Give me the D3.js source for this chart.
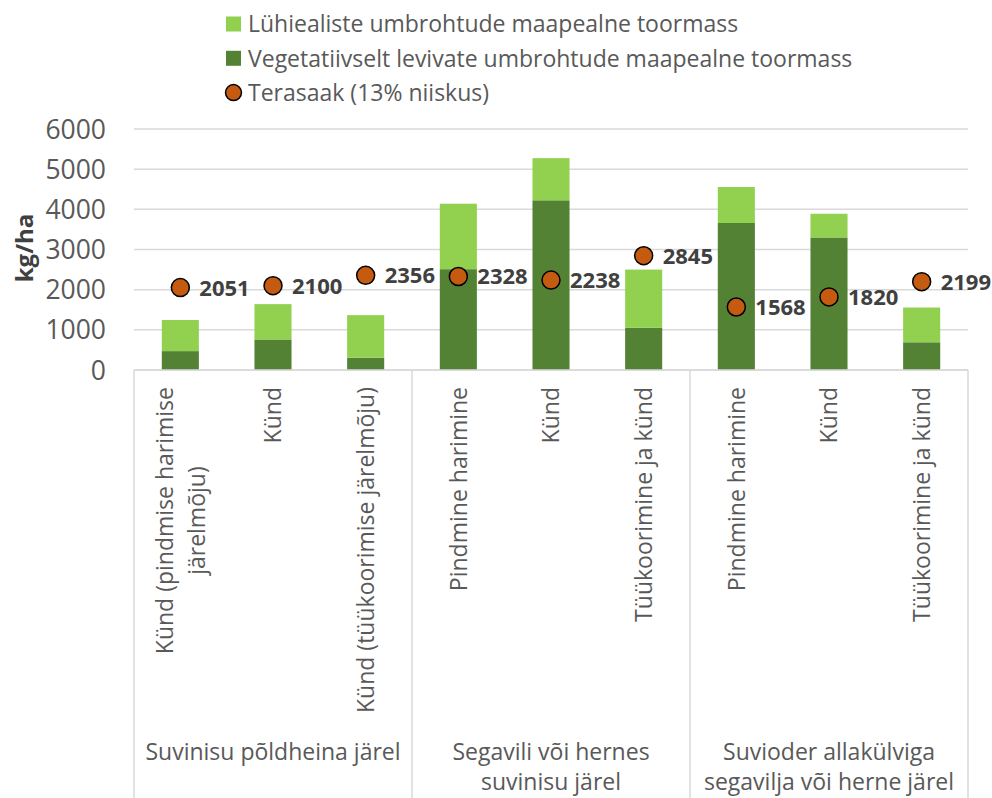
<!DOCTYPE html>
<html>
<head>
<meta charset="utf-8">
<script src="https://cdn.jsdelivr.net/npm/d3@7"></script>
<style>
  body { margin: 0; background: #fff; }
  svg { font-family: 'Open Sans', sans-serif; }
  .axis-text { fill: #595959; }
  .data-label { fill: #404040; font-weight: bold; }
</style>
</head>
<body>
<svg></svg>
<script>
var categories = [
  'Künd (pindmise harimise\njärelmõju)',
  'Künd',
  'Künd (tüükoorimise järelmõju)',
  'Pindmine harimine',
  'Künd',
  'Tüükoorimine ja künd',
  'Pindmine harimine',
  'Künd',
  'Tüükoorimine ja künd'
];
var groups = [
  'Suvinisu põldheina järel',
  'Segavili või hernes\nsuvinisu järel',
  'Suvioder allakülviga\nsegavilja või herne järel'
];

var seriesNames = [
  'Lühiealiste umbrohtude maapealne toormass',
  'Vegetatiivselt levivate umbrohtude maapealne toormass',
  'Terasaak (13% niiskus)'
];
var vegetative = [470, 760, 305, 2510, 4225, 1050, 3660, 3300, 690];
var shortLived = [775, 880, 1060, 1630, 1050, 1450, 895, 590, 865];
var grainYield = [2051, 2100, 2356, 2328, 2238, 2845, 1568, 1820, 2199];
var yTicks = [0, 1000, 2000, 3000, 4000, 5000, 6000];

var width = 992;
var height = 798;
var plot = { left: 134, right: 968, top: 129, bottom: 370 };

var colorShort = '#92d050';
var colorVeg = '#548235';
var colorYield = '#c55a11';
var lineColor = '#d9d9d9';

var svg = d3.select('svg')
  .attr('width', width)
  .attr('height', height);

var scaleX = d3.scaleBand()
  .domain(d3.range(categories.length))
  .range([plot.left, plot.right])
  .paddingInner(0.6)
  .paddingOuter(0.3);
var scaleGroup = d3.scaleBand()
  .domain(d3.range(groups.length))
  .range([plot.left, plot.right]);
var scaleY = d3.scaleLinear()
  .domain([0, 6000])
  .range([plot.bottom, plot.top]);

function center(i) {
  return scaleX(i) + scaleX.bandwidth() / 2;
}

// gridlines
svg.append('g')
  .selectAll('line')
  .data(yTicks)
  .enter().append('line')
  .attr('x1', plot.left)
  .attr('x2', plot.right)
  .attr('y1', function(d) { return scaleY(d); })
  .attr('y2', function(d) { return scaleY(d); })
  .attr('stroke', lineColor)
  .attr('stroke-width', 1.5);

svg.append('g')
  .selectAll('text')
  .data(yTicks)
  .enter().append('text')
  .attr('class', 'axis-text')
  .attr('x', 106)
  .attr('y', function(d) { return scaleY(d); })
  .attr('dy', '0.36em')
  .attr('text-anchor', 'end')
  .style('font-size', '26.5px')
  .text(function(d) { return d; });

svg.append('text')
  .attr('transform', 'translate(33,248) rotate(-90)')
  .attr('text-anchor', 'middle')
  .attr('fill', '#404040')
  .style('font-size', '24px')
  .style('font-weight', 'bold')
  .text('kg/ha');

// stacked bars
var stackData = categories.map(function(c, i) {
  return { veg: vegetative[i], short: shortLived[i] };
});
var stack = d3.stack().keys(['veg', 'short'])(stackData);
var stackColors = [colorVeg, colorShort];

svg.append('g')
  .selectAll('g')
  .data(stack)
  .enter().append('g')
  .attr('fill', function(d, i) { return stackColors[i]; })
  .selectAll('rect')
  .data(function(d) { return d; })
  .enter().append('rect')
  .attr('x', function(d, i) { return scaleX(i); })
  .attr('width', scaleX.bandwidth())
  .attr('y', function(d) { return scaleY(d[1]); })
  .attr('height', function(d) { return scaleY(d[0]) - scaleY(d[1]); });

// category axis box
var boundaries = d3.range(groups.length + 1).map(function(g) {
  return g < groups.length ? scaleGroup(g) : plot.right;
});
svg.append('line')
  .attr('x1', plot.left)
  .attr('x2', plot.right)
  .attr('y1', plot.bottom)
  .attr('y2', plot.bottom)
  .attr('stroke', lineColor)
  .attr('stroke-width', 1.5);
svg.append('g')
  .selectAll('line')
  .data(boundaries)
  .enter().append('line')
  .attr('x1', function(d) { return d; })
  .attr('x2', function(d) { return d; })
  .attr('y1', plot.bottom)
  .attr('y2', height)
  .attr('stroke', lineColor)
  .attr('stroke-width', 1.5);

// rotated category labels
var catLineHeight = 32;
var catLabels = svg.append('g')
  .selectAll('text')
  .data(categories)
  .enter().append('text')
  .attr('class', 'axis-text')
  .attr('transform', function(d, i) {
    return 'translate(' + center(i) + ',387) rotate(-90)';
  })
  .style('font-size', '23px')
  .attr('text-anchor', 'middle');

catLabels.each(function(d) {
  var lines = d.split('\n');
  var el = d3.select(this);
  var spans = lines.map(function(line, k) {
    return el.append('tspan')
      .attr('y', (k - (lines.length - 1) / 2) * catLineHeight)
      .attr('dy', '0.36em')
      .text(line);
  });
  var maxW = d3.max(spans, function(s) { return s.node().getComputedTextLength(); });
  spans.forEach(function(s) { s.attr('x', -maxW / 2); });
});

// group labels
svg.append('g')
  .selectAll('text')
  .data(groups)
  .enter().append('text')
  .attr('class', 'axis-text')
  .attr('text-anchor', 'middle')
  .style('font-size', '23px')
  .each(function(d, g) {
    var el = d3.select(this);
    d.split('\n').forEach(function(line, k) {
      el.append('tspan')
        .attr('x', scaleGroup(g) + scaleGroup.bandwidth() / 2)
        .attr('y', 752 + k * 30)
        .attr('dy', '0.36em')
        .text(line);
    });
  });

// grain yield points
svg.append('g')
  .selectAll('circle')
  .data(grainYield)
  .enter().append('circle')
  .attr('cx', function(d, i) { return center(i); })
  .attr('cy', function(d) { return scaleY(d); })
  .attr('r', 9)
  .attr('fill', colorYield)
  .attr('stroke', '#000')
  .attr('stroke-width', 1.5);

svg.append('g')
  .selectAll('text')
  .data(grainYield)
  .enter().append('text')
  .attr('class', 'data-label')
  .attr('x', function(d, i) { return center(i) + 19; })
  .attr('y', function(d) { return scaleY(d); })
  .attr('dy', '0.36em')
  .style('font-size', '22px')
  .text(function(d) { return d; });

// legend
var legend = svg.append('g')
  .selectAll('g')
  .data(seriesNames)
  .enter().append('g')
  .attr('transform', function(d, i) { return 'translate(226,' + (24 + i * 34.3) + ')'; });

legend.each(function(d, i) {
  var el = d3.select(this);
  if (i < 2) {
    el.append('rect')
      .attr('x', 0)
      .attr('y', -7.5)
      .attr('width', 15)
      .attr('height', 15)
      .attr('fill', i === 0 ? colorShort : colorVeg);
  } else {
    el.append('circle')
      .attr('cx', 7.5)
      .attr('cy', 0)
      .attr('r', 8)
      .attr('fill', colorYield)
      .attr('stroke', '#000')
      .attr('stroke-width', 1.5);
  }
});

legend.append('text')
  .attr('class', 'axis-text')
  .attr('x', 22)
  .attr('dy', '0.36em')
  .style('font-size', '23px')
  .text(function(d) { return d; });
</script>
</body>
</html>
